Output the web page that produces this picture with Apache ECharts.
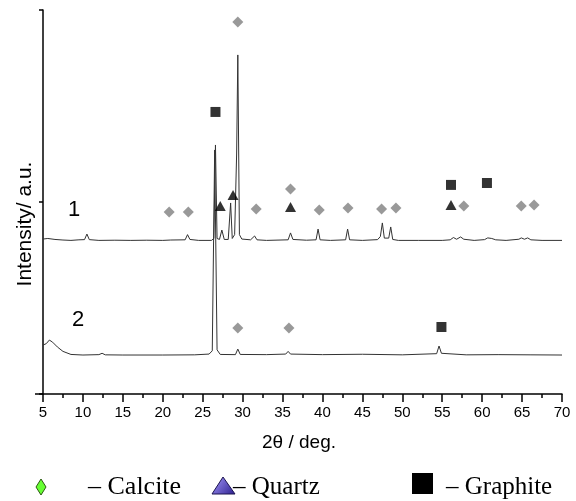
<!DOCTYPE html>
<html>
<head>
<meta charset="utf-8">
<script src="https://cdn.jsdelivr.net/npm/echarts@6/dist/echarts.min.js"></script>
<style>
html,body{margin:0;padding:0;background:#fff;}
#chart{width:576px;height:501px;}
</style>
</head>
<body>
<div id="chart"></div>
<script>
// 2θ (deg) and intensity (a.u., offset stacked) for pattern 1
var pattern1 = [
  [5.0,0.807],[5.6,0.810],[6.5,0.805],[7.5,0.802],[8.5,0.800],[9.5,0.803],[10.2,0.804],[10.5,0.833],[10.8,0.804],
  [12,0.800],[14,0.801],[16,0.800],[18,0.801],[20,0.800],[21,0.802],[22.8,0.803],[23.1,0.830],[23.4,0.805],
  [24.5,0.800],[26.1,0.800],[26.4,0.810],[26.6,1.297],[26.8,0.810],[27.1,0.805],[27.4,0.854],[27.7,0.805],
  [28.2,0.805],[28.5,0.995],[28.7,0.810],[29.0,0.830],[29.25,1.25],[29.4,1.766],[29.6,0.830],[29.9,0.807],
  [31.0,0.803],[31.5,0.823],[31.8,0.803],[33,0.800],[35.7,0.803],[36.0,0.839],[36.3,0.805],[38,0.801],
  [39.2,0.803],[39.45,0.859],[39.7,0.803],[41,0.800],[42.9,0.803],[43.15,0.859],[43.4,0.803],[45,0.800],
  [46.9,0.804],[47.25,0.820],[47.5,0.891],[47.75,0.812],[48.3,0.812],[48.55,0.870],[48.8,0.805],[49.5,0.800],
  [52,0.800],[55,0.800],[56.0,0.803],[56.4,0.815],[56.8,0.806],[57.3,0.818],[57.7,0.806],[59,0.800],
  [60.3,0.804],[60.7,0.813],[61.2,0.810],[61.7,0.803],[63,0.800],[64.6,0.806],[64.9,0.813],[65.3,0.806],
  [65.7,0.813],[66.1,0.803],[67.5,0.800],[70,0.800]
];
// pattern 2
var pattern2 = [
  [5.0,0.255],[5.4,0.262],[5.8,0.281],[6.2,0.270],[6.8,0.245],[7.5,0.222],[8.5,0.206],[10,0.203],
  [12.0,0.205],[12.4,0.212],[12.8,0.204],[15,0.203],[20,0.203],[24,0.204],[25.8,0.208],[26.2,0.225],
  [26.5,1.271],[26.8,0.230],[27.2,0.206],[29.1,0.205],[29.4,0.234],[29.7,0.206],[33,0.205],[35.4,0.208],
  [35.7,0.222],[36.0,0.208],[40,0.205],[45,0.207],[50,0.204],[54.3,0.210],[54.6,0.250],[54.9,0.212],
  [58,0.204],[62,0.205],[66,0.204],[70,0.203]
];
// phase markers [2θ, height]
var calciteMarks = [
  [29.4,1.937],[20.8,0.948],[23.2,0.948],[31.7,0.964],[36.0,1.068],[39.6,0.958],[43.2,0.969],
  [47.4,0.964],[49.2,0.969],[57.7,0.979],[64.9,0.979],[66.5,0.984],[29.4,0.344],[35.8,0.344]
];
var quartzMarks = [[27.2,0.979],[28.8,1.036],[36.0,0.974],[56.1,0.984]];
var graphiteMarks = [[26.6,1.469],[56.1,1.089],[60.6,1.099],[54.9,0.349]];
var xTicks = {min:5, max:70, interval:5};
var legendNames = ['– Calcite','– Quartz','– Graphite'];

var chart = echarts.init(document.getElementById('chart'));
chart.setOption({
  animation:false,
  backgroundColor:'#fff',
  grid:{left:43,right:14,top:10,bottom:107,containLabel:false},
  xAxis:{
    type:'value',min:xTicks.min,max:xTicks.max,interval:xTicks.interval,
    axisLine:{lineStyle:{color:'#000',width:1.5}},
    axisTick:{show:true,length:8,lineStyle:{color:'#000',width:1.5}},
    minorTick:{show:true,splitNumber:2,length:4,lineStyle:{color:'#000',width:1.5}},
    splitLine:{show:false},
    axisLabel:{color:'#000',fontFamily:'Arial, Liberation Sans',fontSize:15,margin:11}
  },
  yAxis:{
    type:'value',min:0,max:2,interval:1,
    axisLine:{show:true,lineStyle:{color:'#000',width:1.5}},
    axisTick:{show:true,length:4,lineStyle:{color:'#000',width:1.5}},
    axisLabel:{show:false},
    splitLine:{show:false}
  },
  series:[
    {type:'line',data:pattern1,symbol:'none',lineStyle:{color:'#333',width:1},z:2},
    {type:'line',data:pattern2,symbol:'none',lineStyle:{color:'#333',width:1},z:2},
    {type:'scatter',data:calciteMarks,symbol:'diamond',symbolSize:11,itemStyle:{color:'#808080'},z:3},
    {type:'scatter',data:quartzMarks,symbol:'triangle',symbolSize:[11,10],itemStyle:{color:'#000'},z:3},
    {type:'scatter',data:graphiteMarks,symbol:'rect',symbolSize:10,itemStyle:{color:'#000'},z:3}
  ],
  graphic:[
    {type:'line',shape:{x1:35,y1:394,x2:43,y2:394},style:{stroke:'#000',lineWidth:1.5}},
    {type:'text',x:74,y:210,style:{text:'1',font:'22px Arial, Liberation Sans',fill:'#000',align:'center',verticalAlign:'middle'}},
    {type:'text',x:78,y:320,style:{text:'2',font:'22px Arial, Liberation Sans',fill:'#000',align:'center',verticalAlign:'middle'}},
    {type:'text',x:25,y:224,rotation:Math.PI/2,style:{text:'Intensity/ a.u.',font:'21px Arial, Liberation Sans',fill:'#000',align:'center',verticalAlign:'middle'}},
    {type:'text',x:299,y:443,style:{text:'2θ / deg.',font:'19px Arial, Liberation Sans',fill:'#000',align:'center',verticalAlign:'middle'}},
    {type:'polygon',shape:{points:[[41,479],[46,487],[41,495],[36,487]]},style:{fill:'#66ff33',stroke:'#2d5a12',lineWidth:1}},
    {type:'text',x:88,y:487,style:{text:legendNames[0],font:'26px "Liberation Serif", "Times New Roman", serif',fill:'#000',align:'left',verticalAlign:'middle'}},
    {type:'polygon',shape:{points:[[223,477],[235,494],[212,494]]},style:{fill:new echarts.graphic.LinearGradient(0,0,1,1,[{offset:0,color:'#a89cff'},{offset:1,color:'#2a1c8c'}]),stroke:'#1c1450',lineWidth:1}},
    {type:'text',x:233,y:487,style:{text:legendNames[1],font:'25px "Liberation Serif", "Times New Roman", serif',fill:'#000',align:'left',verticalAlign:'middle'}},
    {type:'rect',shape:{x:412,y:473,width:21,height:21},style:{fill:'#000'}},
    {type:'text',x:446,y:487,style:{text:legendNames[2],font:'25px "Liberation Serif", "Times New Roman", serif',fill:'#000',align:'left',verticalAlign:'middle'}}
  ]
});
</script>
</body>
</html>
